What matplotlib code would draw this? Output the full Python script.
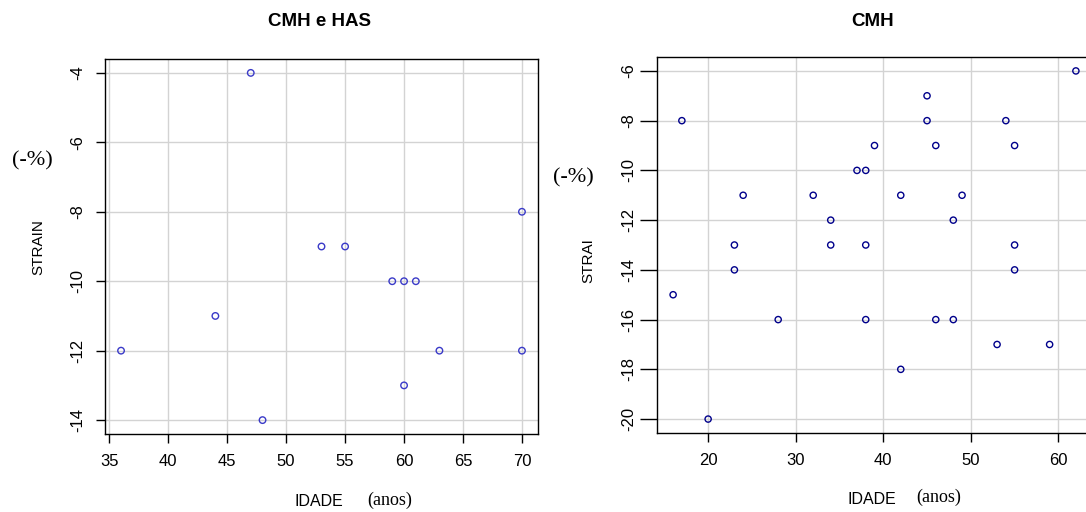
#!/usr/bin/env python3
# strain vs idade, two scatter panels (CMH e HAS / CMH)

import matplotlib
matplotlib.use('Agg')
import matplotlib.pyplot as plt

# panel 1: CMH e HAS
idade_has = [47, 53, 55, 70, 59, 60, 61, 44, 36, 63, 70, 60, 48]
strain_has = [-4, -9, -9, -8, -10, -10, -10, -11, -12, -12, -12, -13, -14]
yticks_has = [-4, -6, -8, -10, -12, -14]
xticks_has = [35, 40, 45, 50, 55, 60, 65, 70]

# panel 2: CMH
idade_cmh = [16, 17, 20, 23, 23, 24, 28, 32, 34, 34, 37, 38, 39, 38, 38, 42,
             42, 45, 45, 46, 46, 48, 48, 49, 53, 54, 55, 55, 55, 59, 62]
strain_cmh = [-15, -8, -20, -13, -14, -11, -16, -11, -12, -13, -10, -10, -9, -13, -16, -11,
              -18, -7, -8, -9, -16, -12, -16, -11, -17, -8, -9, -13, -14, -17, -6]
yticks_cmh = [-6, -8, -10, -12, -14, -16, -18, -20]
xticks_cmh = [20, 30, 40, 50, 60]

W, H = 1086, 512

plt.rcParams['font.family'] = ['Liberation Sans', 'DejaVu Sans']
plt.rcParams['axes.unicode_minus'] = False

fig = plt.figure(figsize=(W / 100, H / 100), dpi=100)

def px_axes(x0, y0, x1, y1):
    # box given in pixels (top-left origin)
    return fig.add_axes((x0 / W, 1 - y1 / H, (x1 - x0) / W, (y1 - y0) / H))

def pad_range(vals, f=0.04):
    lo, hi = min(vals), max(vals)
    d = (hi - lo) * f
    return lo - d, hi + d

def style(ax, ytick_len):
    ax.grid(True, color='#d3d3d3', linewidth=1.0)
    ax.set_axisbelow(True)
    for s in ax.spines.values():
        s.set_color('black')
        s.set_linewidth(1.0)
    ax.tick_params(axis='x', length=6.5, width=1.0, pad=8, labelsize=12)
    ax.tick_params(axis='y', length=ytick_len, width=1.0, pad=8 if ytick_len < 10 else 3,
                   labelsize=12, labelrotation=90)
    for lab in ax.get_yticklabels():
        lab.set_va('center')

# left panel
ax1 = px_axes(105, 59, 538, 434)
ax1.scatter(idade_has, strain_has, s=22, facecolors='none', edgecolors='#3a3ac8', linewidths=1.0, zorder=3)
ax1.set_xlim(pad_range(idade_has))
ax1.set_ylim(pad_range(strain_has))
ax1.set_xticks(xticks_has)
ax1.set_yticks(yticks_has)
style(ax1, 6.5)

# right panel (cut off at the right edge of the picture)
ax2 = px_axes(657, 57, 1092, 433)
ax2.scatter(idade_cmh, strain_cmh, s=20, facecolors='none', edgecolors='#00008b', linewidths=1.0, zorder=3)
ax2.set_xlim(pad_range(idade_cmh))
ax2.set_ylim(pad_range(strain_cmh))
ax2.set_xticks(xticks_cmh)
ax2.set_yticks(yticks_cmh)
style(ax2, 12)

def ftext(x, y, s, **kw):
    fig.text(x / W, 1 - y / H, s, ha='center', va='center', **kw)

serif = ['Liberation Serif', 'DejaVu Serif']

# titles
ftext(320, 21, 'CMH e HAS', fontsize=13.5, fontweight='bold')
ftext(873, 21, 'CMH', fontsize=13.5, fontweight='bold')

# y labels
ftext(32, 161, '(-%)', fontsize=16, family=serif)
ftext(38, 247, 'STRAIN', fontsize=11, rotation=90)
ftext(573, 178, '(-%)', fontsize=16, family=serif)
ftext(588, 261, 'STRAI', fontsize=11, rotation=90)

# x labels
ftext(319, 501, 'IDADE', fontsize=11.5)
ftext(390, 500, '(anos)', fontsize=13, family=serif)
ftext(872, 500, 'IDADE', fontsize=11.5)
ftext(939, 497, '(anos)', fontsize=13, family=serif)

fig.savefig('out.png', dpi=100)
